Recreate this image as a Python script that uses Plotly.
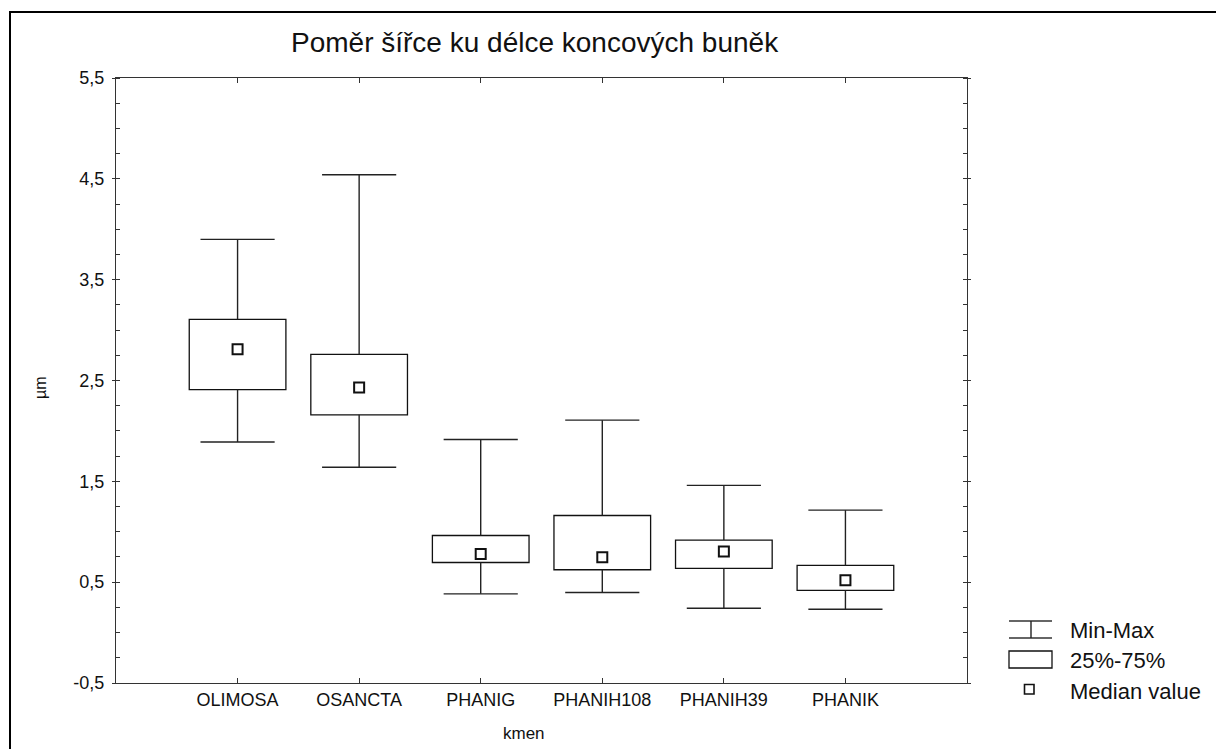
import plotly.graph_objects as go

# ---- data ----
categories = ["OLIMOSA", "OSANCTA", "PHANIG", "PHANIH108", "PHANIH39", "PHANIK"]
minimum = [1.89, 1.64, 0.384, 0.398, 0.242, 0.232]
q1 = [2.41, 2.16, 0.695, 0.623, 0.636, 0.418]
median = [2.81, 2.43, 0.78, 0.748, 0.805, 0.52]
q3 = [3.106, 2.76, 0.963, 1.161, 0.917, 0.666]
maximum = [3.90, 4.54, 1.915, 2.107, 1.46, 1.214]
y_ticks = [-0.5, 0.5, 1.5, 2.5, 3.5, 4.5, 5.5]
y_tick_labels = ["-0,5", "0,5", "1,5", "2,5", "3,5", "4,5", "5,5"]

# ---- layout geometry (page pixels; the page body adds an 8px offset) ----
W, H = 1224, 749
OFF = 8
L, R, T, B = 116, 967, 78, 683
pw, ph = R - L, B - T


def px(p):
    return (p - L) / pw


def py(p):
    return 1 - (p - T) / ph


FONT = "Liberation Sans, Arial, sans-serif"
BOX_W = 0.795
CAP_H = 0.305
xs = list(range(len(categories)))

fig = go.Figure()

# boxes (25%-75%)
fig.add_trace(go.Bar(
    x=xs, y=[b - a for a, b in zip(q1, q3)], base=q1, width=BOX_W,
    marker=dict(color="white", line=dict(color="#111", width=1.3)),
    showlegend=False, hoverinfo="skip",
))

# whiskers and caps (Min-Max)
wx, wy = [], []
for i in xs:
    wx += [i, i, None, i, i, None]
    wy += [q3[i], maximum[i], None, q1[i], minimum[i], None]
    wx += [i - CAP_H, i + CAP_H, None, i - CAP_H, i + CAP_H, None]
    wy += [maximum[i], maximum[i], None, minimum[i], minimum[i], None]
fig.add_trace(go.Scatter(
    x=wx, y=wy, mode="lines", line=dict(color="#222", width=1.4),
    showlegend=False, hoverinfo="skip",
))

# medians
fig.add_trace(go.Scatter(
    x=xs, y=median, mode="markers",
    marker=dict(symbol="square-open", size=10, color="#111", line=dict(width=2)),
    showlegend=False,
))

shapes = []
# outer frame (cut off at right/bottom)
shapes.append(dict(type="rect", xref="paper", yref="paper",
                   x0=px(10), x1=px(W + 20), y0=py(12), y1=py(H + 20),
                   line=dict(color="#000", width=2), layer="below"))

# custom legend
lx0, lx1, lxm = 1009, 1052, 1031
for yy in (621, 638):
    shapes.append(dict(type="line", xref="paper", yref="paper",
                       x0=px(lx0), x1=px(lx1), y0=py(yy), y1=py(yy),
                       line=dict(color="#333", width=1.4)))
shapes.append(dict(type="line", xref="paper", yref="paper",
                   x0=px(lxm), x1=px(lxm), y0=py(621), y1=py(638),
                   line=dict(color="#222", width=1.4)))
shapes.append(dict(type="rect", xref="paper", yref="paper",
                   x0=px(lx0), x1=px(lx1), y0=py(651), y1=py(668),
                   line=dict(color="#111", width=1.3)))
shapes.append(dict(type="rect", xref="paper", yref="paper",
                   x0=px(1024.5), x1=px(1034), y0=py(684.5), y1=py(694),
                   line=dict(color="#111", width=1.6)))

annotations = []
for txt, yy in (("Min-Max", 630), ("25%-75%", 660), ("Median value", 691)):
    annotations.append(dict(text=txt, xref="paper", yref="paper",
                            x=px(1068), y=py(yy), xanchor="left", yanchor="middle",
                            showarrow=False, font=dict(family=FONT, size=22, color="#111")))
# axis titles
annotations.append(dict(text="µm", xref="paper", yref="paper", x=px(40), y=py(388),
                        textangle=-90, xanchor="center", yanchor="middle", showarrow=False,
                        font=dict(family=FONT, size=16, color="#111")))
annotations.append(dict(text="kmen", xref="paper", yref="paper", x=px(524), y=py(734),
                        xanchor="center", yanchor="middle", showarrow=False,
                        font=dict(family=FONT, size=17, color="#111")))
# title
annotations.append(dict(text="Poměr šířce ku délce koncových buněk", xref="paper", yref="paper",
                        x=px(535), y=py(42), xanchor="center", yanchor="middle", showarrow=False,
                        font=dict(family=FONT, size=28, color="#111")))

fig.update_layout(
    width=W - OFF, height=H - OFF,
    margin=dict(l=L - OFF, r=W - R, t=T - OFF, b=H - B),
    paper_bgcolor="white", plot_bgcolor="white",
    separators=", ",
    showlegend=False,
    shapes=shapes, annotations=annotations,
    xaxis=dict(range=[-1, len(categories)], tickvals=xs, ticktext=categories,
               showgrid=False, zeroline=False, showline=True, linecolor="#333", linewidth=1.3,
               mirror="ticks", ticks="inside", ticklen=5, tickcolor="#333",
               tickfont=dict(family=FONT, size=18, color="#111")),
    yaxis=dict(range=[-0.5, 5.5], tickvals=y_ticks, ticktext=y_tick_labels,
               showgrid=False, zeroline=False, showline=True, linecolor="#333", linewidth=1.3,
               mirror="ticks", ticks="outside", ticklen=3, tickcolor="#333",
               ticklabelstandoff=4,
               tickfont=dict(family=FONT, size=18, color="#111")),
)
fig.update_yaxes(minor=dict(dtick=0.25, tick0=-0.5, ticks="inside", ticklen=4, tickcolor="#333"))

fig.write_html("out.html")
